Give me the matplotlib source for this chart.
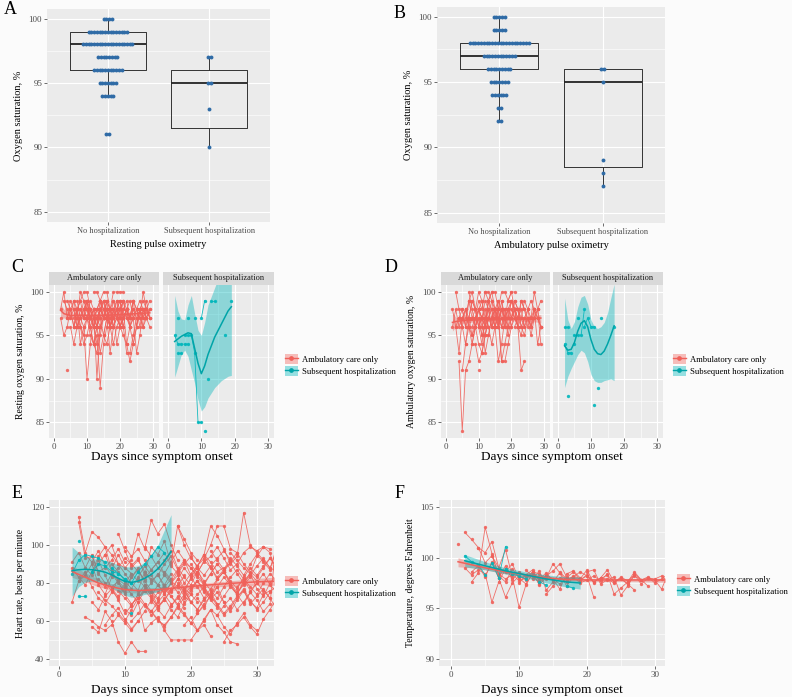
import numpy as np
import matplotlib.pyplot as plt
from matplotlib.patches import Rectangle, Patch
from matplotlib.lines import Line2D

# ---- data ----
# A: resting pulse oximetry (dot stacks + box stats)
a_nohosp_levels = [100, 99, 98, 97, 96, 95, 94, 91]
a_nohosp_counts = [4, 15, 19, 8, 11, 7, 5, 2]
a_hosp_levels = [97, 95, 93, 90]
a_hosp_counts = [2, 2, 1, 1]
a_q1 = [96, 91.5]
a_med = [98, 95]
a_q3 = [99, 96]
a_lo = [94, 90]
a_hi = [100, 97]

# B: ambulatory pulse oximetry
b_nohosp_levels = [100, 99, 98, 97, 96, 95, 94, 93, 92]
b_nohosp_counts = [5, 5, 22, 12, 9, 7, 6, 2, 2]
b_hosp_levels = [96, 95, 89, 88, 87]
b_hosp_counts = [2, 1, 1, 1, 1]
b_q1 = [96, 88.5]
b_med = [97, 95]
b_q3 = [98, 96]
b_lo = [92, 87]
b_hi = [100, 96]

groups = ["No hospitalization", "Subsequent hospitalization"]
legend_labels = ["Ambulatory care only", "Subsequent hospitalization"]

# C: resting saturation per patient (first day, daily values)
c_amb = [
    (2, [98, 100, 97, 99, 98, 96, 97, 98, 99, 97, 98]),
    (2, [97, 95, 96, 98, 99, 97, 96, 98, 97, 99, 98, 97, 96, 98]),
    (4, [91]),
    (4, [99, 98, 96, 97, 100, 99, 98, 97, 96, 97, 98]),
    (4, [97, 98, 96, 98, 99, 97, 98, 96, 97, 98, 99, 98, 97]),
    (5, [96, 94, 96, 98, 97, 99, 96, 94, 93, 95, 97]),
    (6, [97, 98, 99, 100, 100, 98, 97, 96, 98, 99, 97, 98, 96]),
    (7, [99, 97, 96, 90, 94, 97, 98, 99, 97]),
    (8, [96, 94, 95, 97, 98, 96, 93, 95, 97, 96, 98, 99, 97, 96]),
    (8, [98, 97, 99, 98, 96, 97, 98, 97, 99, 98, 96, 97, 98, 99, 97]),
    (9, [98, 99, 97, 98, 90, 96, 97, 98, 96]),
    (10, [97, 96, 94, 95, 89, 94, 96, 98, 97, 99, 98]),
    (11, [98, 97, 96, 99, 98, 97, 93, 96, 97, 98, 99, 97, 96, 98]),
    (12, [100, 100, 99, 100, 100, 98, 100, 100, 100, 100]),
    (12, [94, 96, 97, 95, 94, 96, 98, 97, 96, 95, 94, 96]),
    (13, [96, 98, 97, 99, 96, 94, 96, 97, 98, 99, 97, 98, 97]),
    (14, [99, 97, 98, 96, 97, 98, 99, 96, 93, 93, 95, 97, 98, 96, 97]),
    (15, [95, 97, 98, 99, 97, 96, 98, 94, 92, 94, 96, 98, 99, 98]),
    (16, [98, 96, 97, 98, 99, 97, 98, 96, 97, 93, 95, 98, 97, 98]),
    (17, [97, 99, 98, 96, 97, 98, 97, 99, 98, 97, 100, 98, 97]),
    (18, [96, 98, 97, 99, 98, 96, 97, 98, 99, 98, 97, 96]),
    (19, [97, 98, 96, 98, 97, 99, 98, 97, 96, 98, 97]),
    (20, [99, 97, 98, 96, 94, 96, 98, 97, 99, 97]),
    (22, [98, 97, 99, 96, 98, 97, 98, 99]),
    (3, [99, 98, 97, 98, 96, 97, 99, 98, 97, 96, 98, 97, 99, 98, 97, 96]),
    (5, [97, 99, 98, 96, 95, 97, 98, 96, 94, 96, 97, 99, 98, 97, 98, 96, 97, 98]),
    (6, [96, 98, 94, 96, 97, 95, 94, 96, 98, 99, 97, 96, 98, 94, 96, 97,
         98, 99, 97, 98, 96, 98, 97, 98]),
]
c_hosp = [
    (2, [95, 94, 94, 94, 94]),
    (3, [93, 93]),
    (5, [95, 95, 95, 93, 85, 85]),
    (10, [97, 99]),
    (13, [99, 99]),
    (3, [97]), (6, [97]), (8, [97]), (11, [84]), (12, [90]), (17, [95]), (19, [99]),
]
c_amb_fit_day = [2, 3, 5, 10, 15, 20, 25, 29]
c_amb_fit = [97.9, 97.5, 97.3, 97.3, 97.3, 97.4, 97.5, 97.6]
c_amb_hi = [98.6, 98.0, 97.6, 97.5, 97.5, 97.6, 97.7, 98.0]
c_amb_lo = [97.0, 97.0, 97.0, 97.1, 97.1, 97.2, 97.3, 97.3]
c_hosp_fit_day = [2, 3, 4, 5, 6, 7, 8, 9, 10, 11, 12, 14, 16, 18, 19]
c_hosp_fit = [94.3, 94.6, 94.9, 95.1, 95.3, 95.2, 93.5, 91.8, 90.6, 91.5, 92.8, 94.8, 96.3, 97.8, 98.3]
c_hosp_hi = [99.6, 97.8, 96.9, 96.8, 98.5, 99.6, 97.5, 95.6, 95.0, 96.5, 98.5, 100.5, 102.5, 104, 104]
c_hosp_lo = [90.2, 91.5, 92.8, 93.3, 92.6, 91.0, 89.5, 87.6, 86.3, 86.8, 87.8, 89.0, 89.8, 90.3, 90.4]

# D: ambulatory saturation
d_amb = [
    (2, [96, 98, 96, 97, 98, 96, 95, 97, 98, 99, 96, 97]),
    (2, [98, 96, 93, 97, 98, 96, 94, 96, 97, 95]),
    (3, [100, 98, 96, 94, 97, 99, 98, 96, 97, 98, 96]),
    (4, [92, 84, 91, 92, 94, 96, 97, 95, 96, 98]),
    (4, [97, 96, 98, 97, 95, 96, 98, 97, 96, 99, 97, 98]),
    (5, [91, 94, 96, 97, 98, 100, 99, 97, 96, 94, 96, 98]),
    (6, [97, 99, 100, 98, 96, 97, 93, 95, 97, 98, 96, 99, 97]),
    (7, [100, 98, 96, 94, 93, 95, 97, 99, 98, 96, 97]),
    (8, [96, 97, 99, 98, 100, 100, 99, 97, 96, 98, 97, 99, 100, 98]),
    (9, [94, 92, 93, 95, 97, 96, 98, 97, 92, 94, 96]),
    (9, [97, 98, 96, 97, 99, 98, 96, 97, 98, 96, 97, 99, 98, 97]),
    (10, [91]),
    (10, [98, 97, 96, 99, 100, 98, 97, 96, 98, 97, 99, 98, 96]),
    (11, [96, 95, 97, 98, 96, 92, 94, 97, 98, 99, 97, 96, 95, 97]),
    (12, [100, 99, 100, 100, 98, 100, 100, 99, 100, 100]),
    (13, [95, 97, 96, 98, 92, 92, 94, 96, 97, 98, 96, 95, 97, 96, 98]),
    (14, [97, 98, 99, 97, 96, 98, 97, 99, 98, 96, 97, 98, 99, 98, 97, 96]),
    (16, [96, 98, 97, 95, 97, 98, 96, 91, 92]),
    (17, [99, 97, 98, 96, 98, 97, 99, 98, 96, 97, 98, 94, 96]),
    (18, [98, 96, 97, 99, 98, 97, 96, 98, 97, 100, 98, 94]),
    (20, [97, 98, 96, 97, 99, 98, 96, 97, 98, 99]),
    (21, [96, 97, 98, 96, 97, 95, 97, 98, 96]),
    (3, [96, 97, 98, 96, 99, 97, 96, 98, 97, 99, 98, 96, 97, 98, 96, 97]),
    (5, [98, 96, 97, 99, 98, 96, 94, 97, 98, 96, 97, 99, 98, 97, 96, 98,
         97, 96, 99, 98, 97, 96, 98, 97, 96]),
]
d_hosp = [
    (2, [96, 96]),
    (2, [94, 93, 93]),
    (3, [88]),
    (5, [95, 95]),
    (5, [94]),
    (6, [97]),
    (7, [95, 98]),
    (8, [96, 97, 96, 96]),
    (11, [87]), (12, [89]), (13, [97]), (17, [96]),
]
d_amb_fit_day = [2, 3, 5, 10, 15, 20, 25, 29]
d_amb_fit = [96.5, 96.6, 96.7, 96.8, 96.9, 96.9, 96.9, 97.0]
d_amb_hi = [97.6, 97.1, 96.9, 97.0, 97.1, 97.1, 97.2, 97.4]
d_amb_lo = [95.5, 96.0, 96.4, 96.6, 96.7, 96.7, 96.6, 96.5]
d_hosp_fit_day = [2, 3, 4, 5, 6, 7, 8, 9, 10, 11, 12, 13, 14, 15, 16, 17]
d_hosp_fit = [93.8, 93.3, 93.4, 94.2, 95.5, 96.4, 96.7, 96.0, 94.5, 93.4, 92.9, 92.8, 93.2, 94.0, 95.0, 96.1]
d_hosp_hi = [99.3, 96.8, 95.8, 96.6, 98.3, 99.4, 99.6, 98.6, 96.8, 96.0, 95.8, 96.0, 96.5, 97.6, 99.3, 100.9]
d_hosp_lo = [89.0, 90.3, 91.2, 92.0, 92.8, 93.3, 93.0, 92.0, 90.5, 89.8, 89.6, 89.6, 89.8, 89.9, 90.0, 89.8]

# E: heart rate
e_amb = [
    (2, [91, 96, 88, 95, 85, 80, 76, 72, 78]),
    (2, [70, 81, 84, 90, 79, 74, 83]),
    (2, [88, 83, 79, 86, 92, 84, 77, 73, 80, 85, 81]),
    (3, [115, 96, 107, 104, 99, 95, 90, 88, 85]),
    (3, [112, 93, 94, 86, 88, 92, 98, 91]),
    (3, [81, 86, 78, 72, 69, 75, 82, 79, 74, 70, 76, 72, 68]),
    (4, [62, 60, 57, 55, 58, 63, 59, 55, 60]),
    (4, [95, 91, 97, 89, 84, 88, 93, 90, 86, 82, 87, 91, 85, 81, 78, 84]),
    (5, [57, 54, 65, 60, 49, 43, 49, 44, 44]),
    (5, [86, 94, 99, 87, 95, 88, 92, 106, 98, 113, 106, 111, 100, 92]),
    (5, [70, 66, 73, 77, 71, 64, 68, 74, 69, 63, 67, 72, 66, 62, 69, 74, 70]),
    (6, [75, 71, 68, 64, 60, 66, 72, 68, 65, 70, 74, 69]),
    (7, [95, 100, 90, 85, 80, 76, 86, 82, 79, 75, 80, 84, 77, 74]),
    (7, [58, 63, 67, 61, 56, 60, 65, 71, 66, 62, 68, 73, 67]),
    (8, [78, 81, 74, 69, 72, 77, 75, 68, 71, 76, 79, 73, 70, 66, 72]),
    (8, [90, 86, 81, 77, 83, 89, 84, 79, 74, 80, 86, 91, 88, 83, 79, 85, 90]),
    (9, [106, 97, 89, 93, 84, 99, 95, 102, 90, 110, 103, 96, 92]),
    (9, [76, 72, 68, 74, 79, 73, 67, 71, 77, 82, 76, 70, 74, 78, 73, 69]),
    (10, [66, 63, 70, 55, 59, 62, 55, 50, 50, 50, 50, 55, 58, 52]),
    (10, [99, 94, 98, 92, 87, 91, 96, 89, 85, 90, 94, 88, 84, 89, 93, 97, 92]),
    (11, [88, 92, 86, 81, 84, 90, 94, 87, 80, 85, 89, 95, 91, 86, 88]),
    (11, [60, 64, 69, 65, 61, 57, 62, 67, 63, 59, 64, 68]),
    (12, [72, 76, 80, 85, 77, 73, 69, 74, 78, 81, 76, 72, 75, 70]),
    (12, [82, 78, 73, 79, 84, 80, 75, 70, 76, 81, 77, 72, 78, 83, 79, 74, 80, 85, 81]),
    (13, [99, 94, 88, 85, 91, 97, 92, 84, 89, 93, 100, 110, 110, 98, 96]),
    (14, [65, 60, 58, 62, 68, 64, 59, 55, 61, 66, 58, 54, 49, 48]),
    (14, [70, 75, 79, 73, 68, 72, 77, 81, 75, 71, 67, 73, 78, 74, 69, 75, 80, 76, 72]),
    (15, [84, 79, 75, 82, 88, 83, 78, 72, 77, 82, 86, 80, 75, 79, 83]),
    (16, [92, 97, 88, 83, 79, 86, 91, 94, 99, 93, 87, 90, 96, 99, 97, 99, 98]),
    (16, [86, 82, 87, 92, 88, 84, 80, 85, 90, 86, 81, 77, 83, 88, 84, 89, 93, 88]),
    (17, [68, 72, 77, 70, 66, 71, 75, 69, 64, 68, 73, 76, 70, 67, 74, 76]),
    (18, [110, 100, 93, 89, 95, 110, 105, 98, 90, 94, 117, 100, 96, 92, 88, 97]),
    (18, [80, 75, 83, 88, 78, 72, 82, 86, 79, 74, 81, 85, 77, 73, 80, 84]),
    (19, [58, 62, 55, 60, 66, 63, 57, 53, 59, 64, 58, 55]),
    (19, [77, 82, 86, 81, 76, 72, 78, 83, 87, 82, 78, 74, 80, 85, 81]),
    (20, [90, 85, 92, 88, 83, 87, 93, 89, 84, 90, 95, 91, 87, 99, 101, 98]),
    (21, [72, 67, 74, 78, 70, 65, 71, 76, 69, 73, 77, 72, 66, 70]),
    (21, [64, 69, 73, 68, 63, 67, 72, 77, 71, 66, 70, 75, 79]),
    (22, [95, 88, 82, 86, 91, 85, 80, 84, 89, 93, 88, 86]),
    (23, [97, 92, 87, 91, 96, 90, 86, 83, 88, 93, 89]),
    (24, [63, 68, 72, 66, 70, 75, 71, 65, 69, 104, 87, 86]),
    (25, [49, 55, 58, 62, 57, 53, 61, 66, 72, 67]),
    (26, [96, 92, 88, 85, 94, 99, 96, 82, 88, 74]),
    (27, [78, 82, 76, 80, 85, 79, 75, 81, 68]),
    (4, [88, 84, 90, 95, 86, 81, 77, 83, 88, 79, 75, 71, 78, 82]),
    (6, [82, 78, 85, 80, 75, 83, 87, 81, 76, 72, 79, 85]),
]
e_hosp = [
    (3, [73, 73]),
    (3, [102]),
    (2, [85, 92, 95, 94, 93, 91]),
    (5, [86, 90, 89, 86, 85, 82, 80]),
    (11, [64]),
    (8, [88, 85, 82, 80, 86, 90, 94, 99, 96]),
]
e_amb_fit_day = [2, 4, 6, 8, 10, 12, 15, 18, 21, 24, 27, 30, 33]
e_amb_fit = [86, 83, 80, 78, 76.5, 76, 76.5, 77.5, 78.5, 79.3, 80, 80.6, 81]
e_amb_hi = [89, 85.5, 82, 79.7, 78, 77.3, 77.7, 78.7, 79.7, 80.6, 81.5, 82.4, 83.2]
e_amb_lo = [83, 80.5, 78, 76.3, 75, 74.7, 75.3, 76.3, 77.3, 78.0, 78.5, 78.8, 78.8]
e_hosp_fit_day = [2, 3, 4, 5, 6, 7, 8, 9, 10, 11, 12, 13, 14, 15, 16, 17]
e_hosp_fit = [86.5, 87, 87.2, 87, 86.5, 85.7, 84.3, 82.5, 80.8, 80.3, 81, 82.5, 84.5, 87.5, 91.5, 96.5]
e_hosp_hi = [99, 96, 94, 93, 92.5, 92, 91, 89.5, 88.5, 88.5, 89, 91, 95, 100, 108, 116]
e_hosp_lo = [73, 78, 80.5, 81, 80.5, 79.5, 77.5, 75.5, 73.5, 72.5, 73, 74, 74.5, 75.5, 77, 79]

# F: temperature
f_amb = [
    (1, [101.4]),
    (2, [102.5, 101.8, 101.0, 99.5, 100.2, 98.4]),
    (3, [97.6, 98.5, 103.0, 100.4, 98.0, 99.2, 97.8, 98.6, 98.1]),
    (3, [98.6, 99.2, 98.1, 99.6, 98.4, 97.9, 98.3]),
    (2, [99.0, 98.3, 98.8, 98.4, 95.6, 97.6, 98.9, 98.0]),
    (4, [101.0, 100.5, 101.6, 99.0, 100.8, 98.1, 95.1, 97.3, 98.5, 97.8]),
    (5, [98.2, 99.5, 98.0, 96.1, 97.5, 98.2, 97.8, 98.6, 98.4, 97.9]),
    (6, [100.2, 99.0, 98.6, 99.4, 97.9, 98.3, 98.8, 97.6, 98.2, 98.7, 99.4, 98.1]),
    (7, [98.2, 97.6, 98.9, 98.0, 97.4, 98.4, 97.9, 98.5, 97.7]),
    (8, [98.9, 98.4, 97.7, 98.0, 98.6, 97.3, 98.2, 97.9, 96.9, 98.4, 98.7, 98.0]),
    (10, [97.5, 98.3, 97.9, 98.7, 96.8, 97.6, 98.5, 97.2, 98.1, 98.6, 98.2, 96.1]),
    (11, [98.8, 98.1, 97.6, 98.3, 97.9, 97.4, 98.0, 98.6, 97.8]),
    (12, [98.3, 97.4, 98.0, 99.4, 98.5, 97.7, 98.2, 97.9, 98.8, 97.5]),
    (14, [96.4, 97.2, 98.0, 97.6, 98.1, 97.8, 98.3, 97.6, 98.0, 98.8, 97.6, 97.9, 97.4, 96.8]),
    (16, [98.6, 97.9, 98.1, 97.5, 97.8, 98.2, 97.7, 98.4, 96.4, 97.0, 97.6, 98.6, 97.8, 97.2]),
    (19, [97.8, 98.2, 97.6, 98.0, 97.9, 97.5, 98.1, 97.7, 98.3, 97.4, 98.0, 97.8, 96.9, 98.5, 97.9]),
    (20, [98.6, 98.8, 97.4, 97.8, 98.1, 96.3, 97.2, 98.4, 97.8, 98.0, 97.9, 98.2, 97.6, 98.1]),
    (22, [97.9, 98.3, 97.6, 98.0, 97.4, 98.2, 97.8, 98.1, 97.5, 97.9, 98.4]),
]
f_hosp = [
    (2, [100.2, 99.6, 99.3, 98.3]),
    (6, [99.5, 98.0, 101.1]),
    (8, [98.9, 98.4, 98.2, 97.9]),
    (13, [97.6, 97.3]),
    (17, [97.2, 97.0]),
]
f_amb_fit_day = [1, 3, 5, 8, 11, 14, 17, 20, 25, 30, 33]
f_amb_fit = [99.6, 99.3, 99.0, 98.6, 98.3, 98.0, 97.85, 97.8, 97.8, 97.8, 97.8]
f_amb_hi = [100.0, 99.6, 99.2, 98.8, 98.45, 98.15, 98.0, 97.95, 97.95, 97.95, 98.0]
f_amb_lo = [99.1, 99.0, 98.8, 98.4, 98.15, 97.85, 97.7, 97.65, 97.65, 97.6, 97.55]
f_hosp_fit_day = [2, 5, 8, 11, 14, 17, 19]
f_hosp_fit = [99.7, 99.2, 98.7, 98.3, 97.9, 97.6, 97.5]
f_hosp_hi = [100.3, 99.6, 99.0, 98.6, 98.3, 98.1, 98.1]
f_hosp_lo = [99.1, 98.8, 98.4, 98.0, 97.5, 97.1, 96.9]

# ---- styling ----
W, H = 792, 697
RED = '#F0615A'
TEAL = '#00B6BB'
TEAL_LINE = '#00A4A8'
BLUE = '#2F6BA6'
plt.rcParams['font.family'] = ['Liberation Serif', 'DejaVu Serif']

fig = plt.figure(figsize=(W / 100, H / 100), dpi=100)
fig.patch.set_facecolor('#FBFBFB')


def px_axes(l, t, r, b):
    return fig.add_axes([l / W, 1 - b / H, (r - l) / W, (b - t) / H])


def gg(ax, ymajor, yminor, xmajor=None, xminor=None):
    ax.set_facecolor('#EBEBEB')
    for s in ax.spines.values():
        s.set_visible(False)
    if xmajor is not None:
        ax.set_xticks(xmajor)
        ax.set_xticks(xminor, minor=True)
    ax.set_yticks(ymajor)
    ax.set_yticks(yminor, minor=True)
    ax.grid(True, which='major', color='white', lw=0.8)
    ax.grid(True, which='minor', color='white', lw=0.4)
    ax.set_axisbelow(True)
    ax.tick_params(which='major', length=2, width=0.5, color='#333333',
                   labelsize=6.5, labelcolor='#4D4D4D', pad=1.5)
    ax.tick_params(which='minor', length=0)


def box_panel(ax, q1, med, q3, lo, hi, dots, xlabel):
    stats = [dict(q1=q1[i], med=med[i], q3=q3[i], whislo=lo[i], whishi=hi[i])
             for i in range(2)]
    ax.bxp(stats, positions=[1, 2], widths=0.75, showcaps=False, showfliers=False,
           boxprops=dict(color='#333333', lw=0.7),
           whiskerprops=dict(color='#333333', lw=0.7),
           medianprops=dict(color='#222222', lw=1.3))
    for pos, (levels, counts) in zip([1, 2], dots):
        for v, n in zip(levels, counts):
            xs = pos + (np.arange(n) - (n - 1) / 2) * 0.027
            ax.plot(xs, [v] * n, 'o', color=BLUE, ms=2.8, mec='none', zorder=4)
    ax.set_xlim(0.4, 2.6)
    ax.set_ylim(84.2, 100.75)
    gg(ax, [85, 90, 95, 100], [87.5, 92.5, 97.5], [1, 2], [])
    ax.set_xticklabels(groups, fontsize=6)
    ax.set_xlabel(xlabel, fontsize=7.5, labelpad=4)
    ax.set_ylabel('Oxygen saturation, %', fontsize=7.5, labelpad=4)


def draw_patients(ax, patients, color, ms=2.4):
    for start, vals in patients:
        days = np.arange(start, start + len(vals))
        ax.plot(days, vals, '-o', color=color, lw=0.6, ms=ms, mec='none', alpha=0.9)


def draw_fit(ax, day, fit, lo, hi, color, fill):
    ax.fill_between(day, lo, hi, color=fill, alpha=0.4, lw=0, zorder=5)
    ax.plot(day, fit, color=color, lw=1.1, zorder=6)


def add_strip(ax, label, h_frac):
    ax.add_patch(Rectangle((0, 1), 1, h_frac, transform=ax.transAxes,
                           fc='#D9D9D9', ec='none', clip_on=False))
    ax.text(0.5, 1 + h_frac / 2, label, transform=ax.transAxes, ha='center',
            va='center', fontsize=6, color='#1A1A1A')


def add_legend(x, y):
    handles = [(Patch(fc=RED, alpha=0.4, ec='none'),
                Line2D([], [], color=RED, lw=1.0, marker='o', ms=2.4)),
               (Patch(fc=TEAL, alpha=0.4, ec='none'),
                Line2D([], [], color=TEAL_LINE, lw=1.0, marker='o', ms=2.4))]
    fig.legend(handles, legend_labels, loc='center left',
               bbox_to_anchor=(x / W, 1 - y / H), frameon=False, fontsize=6.2,
               handlelength=1.5, handleheight=1.5, handletextpad=0.5,
               labelspacing=0.2, borderaxespad=0, borderpad=0)


def facet_pair(l1, r1, l2, r2, amb, hosp, amb_fit, hosp_fit, ylabel, ylab_x):
    top, bottom = 285, 438
    axl = px_axes(l1, top, r1, bottom)
    axr = px_axes(l2, top, r2, bottom)
    for ax, pts, color, fitargs, lab in (
            (axl, amb, RED, amb_fit, legend_labels[0]),
            (axr, hosp, TEAL, hosp_fit, legend_labels[1])):
        draw_patients(ax, pts, color)
        draw_fit(ax, *fitargs, color=RED if color == RED else TEAL_LINE, fill=color)
        ax.set_xlim(-1.5, 31.8)
        ax.set_ylim(83.2, 100.8)
        gg(ax, [85, 90, 95, 100], [87.5, 92.5, 97.5], [0, 10, 20, 30], [5, 15, 25])
        add_strip(ax, lab, 13 / (bottom - top))
    axr.tick_params(axis='y', which='major', length=0, labelleft=False)
    fig.text(ylab_x / W, 1 - (top + bottom) / 2 / H, ylabel, rotation=90,
             ha='center', va='center', fontsize=7)
    fig.text((l1 + r2) / 2 / W, 1 - 457 / H, 'Days since symptom onset',
             ha='center', va='center', fontsize=9.5)


# A and B
axA = px_axes(47, 9, 270, 222)
box_panel(axA, a_q1, a_med, a_q3, a_lo, a_hi,
          [(a_nohosp_levels, a_nohosp_counts), (a_hosp_levels, a_hosp_counts)],
          'Resting pulse oximetry')
axB = px_axes(437, 7, 665, 223)
box_panel(axB, b_q1, b_med, b_q3, b_lo, b_hi,
          [(b_nohosp_levels, b_nohosp_counts), (b_hosp_levels, b_hosp_counts)],
          'Ambulatory pulse oximetry')

# C and D
facet_pair(49, 159, 163, 274, c_amb, c_hosp,
           (c_amb_fit_day, c_amb_fit, c_amb_lo, c_amb_hi),
           (c_hosp_fit_day, c_hosp_fit, c_hosp_lo, c_hosp_hi),
           'Resting oxygen saturation, %', 21)
add_legend(285, 365)
facet_pair(441, 550, 553, 663, d_amb, d_hosp,
           (d_amb_fit_day, d_amb_fit, d_amb_lo, d_amb_hi),
           (d_hosp_fit_day, d_hosp_fit, d_hosp_lo, d_hosp_hi),
           'Ambulatory oxygen saturation, %', 412)
add_legend(673, 365)

# E
axE = px_axes(49, 500, 274, 666)
draw_patients(axE, e_amb, RED)
draw_patients(axE, e_hosp, TEAL)
draw_fit(axE, e_amb_fit_day, e_amb_fit, e_amb_lo, e_amb_hi, RED, RED)
draw_fit(axE, e_hosp_fit_day, e_hosp_fit, e_hosp_lo, e_hosp_hi, TEAL_LINE, TEAL)
axE.set_xlim(-1.5, 32.6)
axE.set_ylim(36.3, 123.7)
gg(axE, [40, 60, 80, 100, 120], [50, 70, 90, 110], [0, 10, 20, 30], [5, 15, 25])
axE.set_xlabel('Days since symptom onset', fontsize=9.5, labelpad=4)
axE.set_ylabel('Heart rate, beats per minute', fontsize=7, labelpad=4)
add_legend(285, 587)

# F
axF = px_axes(439, 500, 665, 666)
draw_patients(axF, f_amb, RED)
draw_patients(axF, f_hosp, TEAL)
draw_fit(axF, f_amb_fit_day, f_amb_fit, f_amb_lo, f_amb_hi, RED, RED)
draw_fit(axF, f_hosp_fit_day, f_hosp_fit, f_hosp_lo, f_hosp_hi, TEAL_LINE, TEAL)
axF.set_xlim(-1.8, 31.5)
axF.set_ylim(89.3, 105.7)
gg(axF, [90, 95, 100, 105], [92.5, 97.5, 102.5], [0, 10, 20, 30], [5, 15, 25])
axF.set_xlabel('Days since symptom onset', fontsize=9.5, labelpad=4)
axF.set_ylabel('Temperature, degrees Fahrenheit', fontsize=7, labelpad=4)
add_legend(677, 585)

# panel letters
for lab, x, y in [('A', 10, 10), ('B', 400, 13), ('C', 17, 267), ('D', 391, 267),
                  ('E', 17, 493), ('F', 400, 493)]:
    fig.text(x / W, 1 - y / H, lab, ha='center', va='center', fontsize=13)

fig.savefig('out.png', dpi=100, facecolor=fig.get_facecolor())
